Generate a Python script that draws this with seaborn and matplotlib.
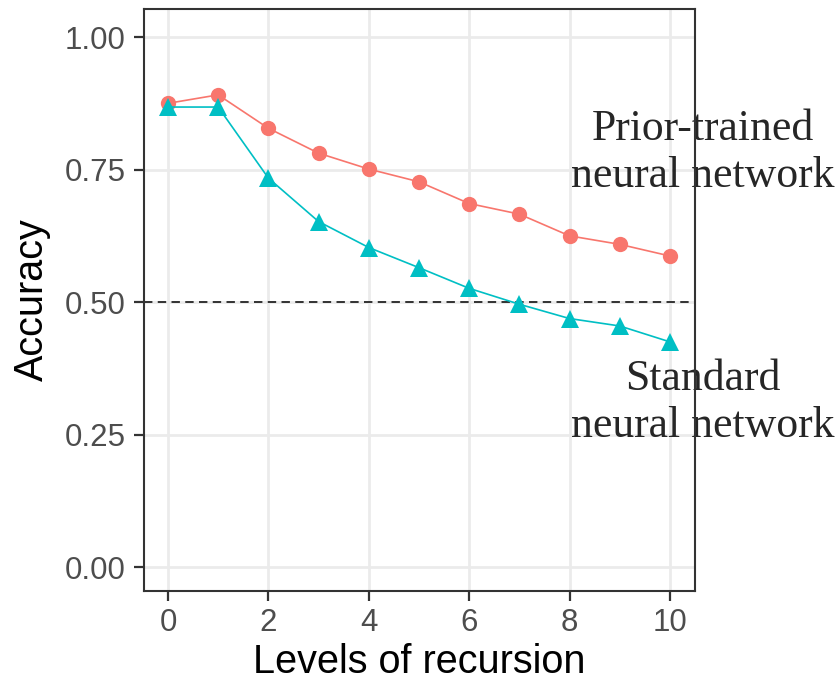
import numpy as np
import pandas as pd
import matplotlib
matplotlib.use("Agg")
import matplotlib.pyplot as plt
import seaborn as sns

# Accuracy by recursion depth for the two networks
levels = list(range(11))
prior_trained = [0.875, 0.891, 0.828, 0.781, 0.751, 0.727, 0.686, 0.666, 0.625, 0.609, 0.587]
standard = [0.868, 0.868, 0.734, 0.652, 0.603, 0.565, 0.526, 0.496, 0.469, 0.455, 0.425]
series_names = ["Prior-trained", "Standard"]
x_ticks = [0, 2, 4, 6, 8, 10]
y_ticks = [0.00, 0.25, 0.50, 0.75, 1.00]
chance_level = 0.5

df = pd.DataFrame({
    "level": levels * 2,
    "accuracy": prior_trained + standard,
    "network": [series_names[0]] * len(levels) + [series_names[1]] * len(levels),
})

sns.set_theme(style="white")
plt.rcParams["font.family"] = ["Liberation Sans", "DejaVu Sans"]

fig = plt.figure(figsize=(8.4, 6.85), dpi=100)
ax = fig.add_axes([0.1714, 0.1372, 0.6560, 0.8497])

# background grid
ax.set_axisbelow(True)
ax.grid(True, color="#EBEBEB", linewidth=2.0)

ax.axhline(chance_level, color="black", linewidth=1.1, dashes=(5.5, 3.5), zorder=1.5)

sns.lineplot(
    data=df, x="level", y="accuracy", hue="network", style="network",
    palette={"Prior-trained": "#F8766D", "Standard": "#00BFC4"},
    markers={"Prior-trained": "o", "Standard": "^"}, dashes=False,
    linewidth=1.2, markersize=11, markeredgewidth=0, ax=ax, legend=False,
)
# enlarge triangles a touch
for line in ax.lines:
    if line.get_marker() == "^":
        line.set_markersize(13.5)

ax.set_xlim(-0.478, 10.5)
ax.set_ylim(-0.045, 1.053)
ax.set_xticks(x_ticks)
ax.set_xticklabels([str(v) for v in x_ticks])
ax.set_yticks(y_ticks)
ax.set_yticklabels([f"{v:.2f}" for v in y_ticks])

ax.tick_params(axis="both", which="major", length=7, width=1.6, color="#333333",
               labelsize=22.5, labelcolor="#4D4D4D", pad=5, left=True, bottom=True)
ax.tick_params(axis="y", pad=6)

for sp in ax.spines.values():
    sp.set_visible(True)
    sp.set_color("#333333")
    sp.set_linewidth(1.5)

ax.set_xlabel("Levels of recursion", fontsize=28.5, color="black", labelpad=4)
ax.set_ylabel("Accuracy", fontsize=28.5, color="black", labelpad=10)

serif = ["Liberation Serif", "DejaVu Serif"]
ax.text(10.66, 0.783, "Prior-trained\nneural network", family=serif, fontsize=31.5,
        ha="center", va="center", linespacing=1.22, clip_on=False, zorder=2)
ax.text(10.66, 0.311, "Standard\nneural network", family=serif, fontsize=31.5,
        ha="center", va="center", linespacing=1.22, clip_on=False, zorder=2)

fig.savefig("out.png", dpi=100)
